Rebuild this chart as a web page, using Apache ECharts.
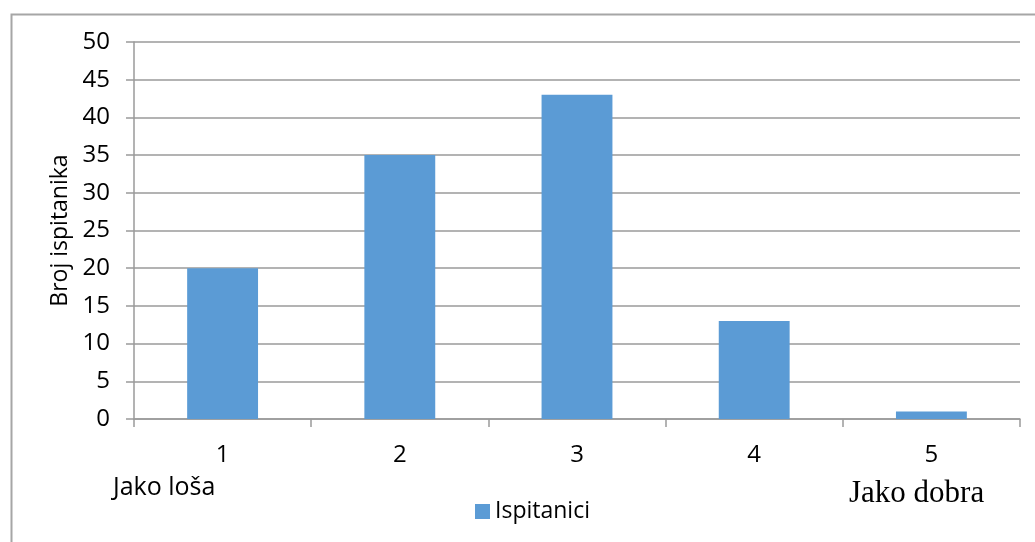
<!DOCTYPE html>
<html>
<head>
<meta charset="utf-8">
<script src="https://cdn.jsdelivr.net/npm/echarts@6/dist/echarts.min.js"></script>
<style>
html,body{margin:0;padding:0;background:#fff;}
#c{width:1035px;height:542px;}
</style>
</head>
<body>
<div id="c"></div>
<script>
const categories = ['1', '2', '3', '4', '5'];
const ispitanici = [20, 35, 43, 13, 1];
const seriesName = 'Ispitanici';
const yAxisName = 'Broj ispitanika';
const leftNote = 'Jako loša';
const rightNote = 'Jako dobra';

const FONT = 'Open Sans';
const chart = echarts.init(document.getElementById('c'), null, {renderer: 'canvas'});
chart.setOption({
  animation: false,
  backgroundColor: '#fff',
  grid: {left: 134, top: 42, right: 15, bottom: 123, containLabel: false},
  legend: {
    data: [seriesName],
    left: 475, top: 500, padding: 0,
    itemWidth: 15, itemHeight: 15, itemGap: 6,
    icon: 'rect',
    textStyle: {fontFamily: FONT, fontSize: 23, color: '#000'}
  },
  xAxis: {
    type: 'category',
    data: categories,
    axisLine: {lineStyle: {color: '#9a9a9a', width: 1.5}},
    axisTick: {show: true, length: 8, lineStyle: {color: '#9a9a9a', width: 1.5}},
    axisLabel: {fontFamily: FONT, fontSize: 24, color: '#000', margin: 24}
  },
  yAxis: {
    type: 'value',
    min: 0, max: 50, interval: 5,
    name: yAxisName,
    nameLocation: 'middle',
    nameGap: 61,
    nameTextStyle: {fontFamily: FONT, fontSize: 23, color: '#000'},
    axisLine: {show: true, lineStyle: {color: '#9a9a9a', width: 1.5}},
    axisTick: {show: true, length: 8, lineStyle: {color: '#9a9a9a', width: 1.5}},
    axisLabel: {fontFamily: FONT, fontSize: 24, color: '#000', margin: 24},
    splitLine: {lineStyle: {color: '#9a9a9a', width: 1.5}}
  },
  series: [{
    name: seriesName,
    type: 'bar',
    data: ispitanici,
    barWidth: '40%',
    itemStyle: {color: '#5B9BD5'}
  }],
  graphic: [
    {type: 'rect', left: 9, top: 12, shape: {width: 1100, height: 600}, style: {fill: 'none', stroke: '#a6a6a6', lineWidth: 2}, silent: true},
    {type: 'text', left: 113, top: 475, style: {text: leftNote, font: '25px "Open Sans"', fill: '#000'}},
    {type: 'text', left: 849, top: 478, style: {text: rightNote, font: '31px "Liberation Serif"', fill: '#000'}}
  ]
});
</script>
</body>
</html>
